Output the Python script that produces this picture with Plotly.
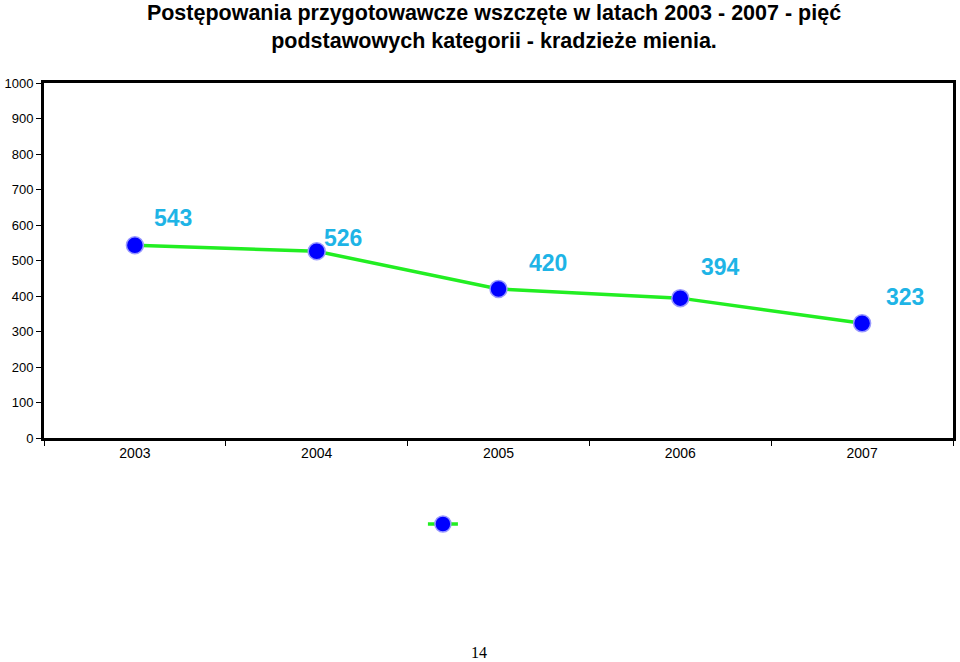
import plotly.graph_objects as go

years = ["2003", "2004", "2005", "2006", "2007"]
values = [543, 526, 420, 394, 323]
y_ticks = [0, 100, 200, 300, 400, 500, 600, 700, 800, 900, 1000]

# label pixel offsets (dx, dy) relative to each point
label_dx = [38, 26, 49, 40, 43]
label_dy = [-27, -13, -26, -31, -26]

fig = go.Figure()
fig.add_trace(go.Scatter(
    x=years, y=values, mode="lines+markers", name="",
    line=dict(color="#22EE22", width=3.5),
    marker=dict(color="#0000FF", size=17, line=dict(color="#9999FF", width=1.5)),
    showlegend=True,
))

for i, (v, dx, dy) in enumerate(zip(values, label_dx, label_dy)):
    fig.add_annotation(x=i, y=v, text="<b>%d</b>" % v, showarrow=False,
                       xshift=dx, yshift=-dy,
                       font=dict(family="Liberation Sans, Arial", size=23, color="#1EB4E6"))

fig.add_annotation(xref="paper", yref="paper", x=(479 - 42) / 914, y=(438 - 652) / 355,
                   text="14", showarrow=False, yanchor="middle",
                   font=dict(family="Liberation Serif, Times New Roman", size=16, color="black"))

fig.update_layout(
    width=960, height=662,
    margin=dict(l=42, r=4, t=83, b=224),
    paper_bgcolor="white", plot_bgcolor="white",
    title=dict(
        text="<b>Postępowania przygotowawcze wszczęte w latach 2003 - 2007 - pięć<br>podstawowych kategorii - kradzieże mienia.</b>",
        x=494 / 960, xanchor="center", yref="container", y=1 - 20 / 662, yanchor="middle",
        font=dict(family="Liberation Sans, Arial", size=21.5, color="black"),
    ),
    font=dict(family="Liberation Sans, Arial", size=12, color="black"),
    legend=dict(x=(423 - 42) / 914, y=(438 - 524) / 355, xanchor="left", yanchor="middle",
                bgcolor="rgba(0,0,0,0)", font=dict(size=12)),
    showlegend=True,
)
fig.update_xaxes(type="category", range=[-0.5, 4.5], showline=True, linecolor="black", linewidth=3,
                 mirror=True, ticks="outside", tickson="boundaries", ticklen=5, tickcolor="black",
                 showgrid=False, tickfont=dict(size=14))
fig.update_yaxes(range=[0, 1000], tickvals=y_ticks, showline=True, linecolor="black", linewidth=3,
                 mirror=True, ticks="outside", ticklen=5, tickcolor="black", showgrid=False,
                 zeroline=False, tickfont=dict(size=13))

fig.write_html("out.html")
